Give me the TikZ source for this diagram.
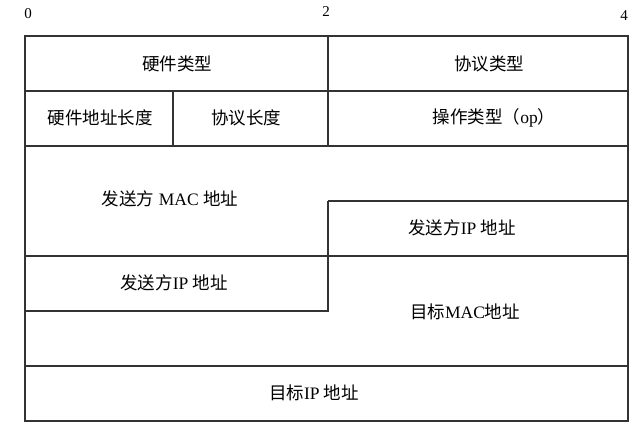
\documentclass[tikz,border=0pt]{standalone}
\usepackage{fontspec}
\setmainfont{Liberation Serif}
\newfontfamily\cjk{Noto Sans CJK SC}
\newcommand{\zh}[1]{{\cjk #1}}
\begin{document}
\begin{tikzpicture}[x=1pt,y=-1pt,line width=1.2pt,
  lab/.style={font=\fontsize{17.5}{19}\selectfont},
  num/.style={font=\fontsize{15}{17}\selectfont}]
\useasboundingbox (0,0) rectangle (640,428);
\fill[white] (0,0) rectangle (640,428);
\draw[draw=black!80] (25,36) rectangle (628,421);
\draw[draw=black!80] (25,91) -- (628,91) (25,146) -- (628,146)
  (328,36) -- (328,146) (173,91) -- (173,146)
  (328,201) -- (628,201) (25,256) -- (628,256)
  (328,201) -- (328,311) -- (25,311) (25,366) -- (628,366);
\node[num] (n0) at (28,14) {0};
\node[num] (n2) at (326,12) {2};
\node[num] (n4) at (624,16) {4};
\node[lab] (a) at (177,64) {\zh{硬件类型}};
\node[lab] (b) at (489,64) {\zh{协议类型}};
\node[lab] (c) at (100,118) {\zh{硬件地址长度}};
\node[lab] (d) at (246,118) {\zh{协议长度}};
\node[lab] (e) at (494,118) {\zh{操作类型（}op\zh{）}};
\node[lab] (f) at (170,199) {\zh{发送方} MAC \zh{地址}};
\node[lab] (g) at (462,228) {\zh{发送方}IP \zh{地址}};
\node[lab] (h) at (174,283) {\zh{发送方}IP \zh{地址}};
\node[lab] (i) at (465,312) {\zh{目标}MAC\zh{地址}};
\node[lab] (j) at (314,393) {\zh{目标}IP \zh{地址}};
\end{tikzpicture}
\end{document}
